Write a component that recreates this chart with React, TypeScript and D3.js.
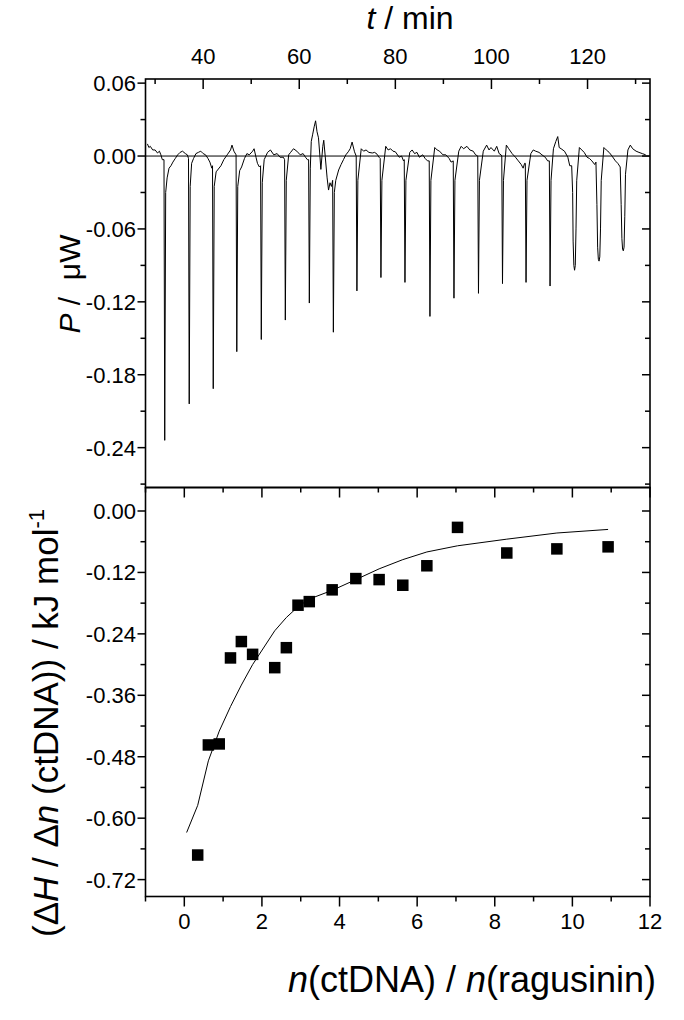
import React from "react";
import * as d3 from "d3";

// ---------- DATA ----------
// ITC thermogram: [t (min), P (µW)]
const powerTrace: [number, number][] = [
  [28.4, 0.010], [28.7, 0.007], [29.0, 0.008], [29.5, 0.005], [30.0, 0.005], [30.5, 0.0025], [30.9, 0.004], [31.2, 0.001], [31.5, -0.003], [31.85, -0.003],
  [32.0, -0.234], [32.2, -0.030], [32.5, -0.018], [32.9, -0.010], [33.3, -0.008], [33.7, -0.005], [34.2, -0.002], [34.7, 0.001], [35.2, 0.003], [35.7, 0.004], [36.3, 0.002], [36.7, 0.001], [36.95, -0.002],
  [37.1, -0.204], [37.3, -0.025], [37.6, -0.006], [38.0, -0.002], [38.5, 0.002], [39.0, 0.003], [39.5, 0.004], [40.0, 0.002], [40.5, 0.001], [41.0, -0.002], [41.4, -0.005], [41.8, -0.010], [41.95, -0.008],
  [42.1, -0.1915], [42.3, -0.025], [42.7, -0.013], [43.0, -0.0115], [43.7, -0.008], [44.3, -0.003], [45.0, 0.001], [45.7, 0.005], [46.0, 0.009], [46.4, 0.004], [46.85, 0.001],
  [47.0, -0.161], [47.2, -0.025], [47.6, -0.012], [48.0, -0.009], [48.6, -0.002], [49.1, 0.002], [49.6, 0.001], [50.3, 0.004], [50.6, 0.006], [51.0, -0.001], [51.3, -0.006], [51.7, -0.009], [51.95, -0.008],
  [52.1, -0.151], [52.3, -0.022], [52.7, -0.003], [53.4, 0.003], [54.0, 0.005], [54.7, 0.001], [55.4, 0.002], [56.0, -0.001], [56.7, -0.001], [56.95, -0.003],
  [57.1, -0.135], [57.3, -0.020], [57.8, 0.001], [58.2, 0.003], [58.8, 0.006], [59.5, 0.004], [60.2, 0.001], [60.8, 0.002], [61.3, -0.001], [61.7, -0.003], [61.95, -0.003],
  [62.1, -0.121], [62.3, -0.010], [62.5, 0.012], [62.8, 0.018], [63.1, 0.024], [63.4, 0.029], [63.7, 0.020], [64.0, 0.015], [64.3, 0.000], [64.5, -0.011], [64.9, 0.008], [65.1, 0.013], [65.4, 0.000], [65.8, -0.018], [66.1, -0.028], [66.4, -0.022], [66.7, -0.025], [66.95, -0.020],
  [67.1, -0.145], [67.3, -0.030], [67.6, -0.020], [68.2, -0.0115], [68.7, -0.007], [69.2, -0.003], [69.7, 0.001], [70.2, 0.0035], [70.6, 0.006], [71.0, 0.0115], [71.5, 0.0035], [71.85, 0.000],
  [72.0, -0.111], [72.2, -0.020], [72.9, 0.006], [73.4, 0.004], [73.9, 0.005], [74.5, 0.003], [75.2, 0.0025], [75.7, 0.003], [76.2, 0.0015], [76.6, -0.001], [76.85, -0.002],
  [77.0, -0.100], [77.2, -0.020], [78.0, 0.008], [78.5, 0.005], [79.0, 0.006], [79.5, 0.004], [80.0, 0.0035], [80.8, -0.001], [81.3, 0.000], [81.7, -0.004], [81.85, -0.003],
  [82.0, -0.104], [82.2, -0.020], [83.0, 0.003], [83.5, 0.005], [84.0, 0.002], [84.5, 0.003], [85.0, -0.001], [85.7, 0.001], [86.2, -0.002], [86.7, -0.004], [87.05, -0.004],
  [87.2, -0.132], [87.4, -0.020], [88.2, 0.007], [88.7, 0.005], [89.2, 0.004], [89.9, 0.001], [90.5, 0.001], [91.2, -0.002], [91.6, -0.005], [92.05, -0.004],
  [92.2, -0.117], [92.4, -0.020], [93.2, 0.004], [93.7, 0.008], [94.2, 0.006], [94.9, 0.008], [95.5, 0.005], [96.2, 0.004], [96.7, 0.001], [97.15, 0.000],
  [97.3, -0.113], [97.5, -0.020], [98.3, 0.004], [99.0, 0.009], [99.5, 0.005], [99.9, 0.007], [100.6, 0.004], [101.1, 0.008], [101.6, 0.002], [102.0, 0.001], [102.15, 0.000],
  [102.3, -0.105], [102.5, -0.020], [103.1, 0.009], [103.6, 0.006], [104.3, 0.002], [105.0, -0.001], [105.6, -0.004], [106.2, -0.007], [106.6, -0.010], [106.9, -0.006], [107.05, -0.006],
  [107.2, -0.104], [107.4, -0.020], [108.2, 0.002], [108.7, 0.005], [109.2, 0.004], [109.9, 0.003], [110.5, 0.001], [111.2, -0.001], [111.7, -0.004], [112.05, -0.004],
  [112.2, -0.107], [112.4, -0.020], [112.9, 0.006], [113.4, 0.012], [113.8, 0.016], [114.1, 0.007], [114.5, 0.006], [115.2, 0.004], [115.9, -0.001], [116.3, -0.008], [116.7, -0.008],
  [116.9, -0.030], [117.0, -0.070], [117.15, -0.090], [117.3, -0.094], [117.45, -0.090], [117.6, -0.060], [117.75, -0.020],
  [118.3, 0.007], [118.8, 0.005], [119.3, 0.003], [119.9, -0.001], [120.4, -0.002], [120.9, -0.004], [121.5, -0.007], [121.75, -0.005],
  [121.95, -0.040], [122.1, -0.075], [122.25, -0.085], [122.4, -0.0865], [122.55, -0.083], [122.7, -0.060], [122.85, -0.020],
  [123.4, 0.007], [123.9, 0.005], [124.5, 0.003], [125.1, 0.000], [125.8, -0.004], [126.3, -0.006], [126.8, -0.009],
  [127.0, -0.040], [127.15, -0.068], [127.3, -0.077], [127.45, -0.078], [127.6, -0.075], [127.75, -0.050], [127.9, -0.015],
  [128.4, 0.005], [128.9, 0.009], [129.4, 0.006], [130.1, 0.004], [130.7, 0.003], [131.4, 0.002], [132.1, 0.001],
];

// Integrated heats
const molarRatio = [0.345, 0.62, 0.90, 1.19, 1.47, 1.76, 2.33, 2.63, 2.93, 3.22, 3.81, 4.42, 5.02, 5.63, 6.25, 7.04, 8.31, 9.60, 10.92];
const enthalpy = [-0.672, -0.457, -0.455, -0.287, -0.255, -0.280, -0.306, -0.267, -0.184, -0.177, -0.154, -0.132, -0.134, -0.145, -0.107, -0.032, -0.082, -0.074, -0.070];

// Fitted curve
const fitRatio = [0.06, 0.345, 0.62, 0.90, 1.19, 1.47, 1.76, 2.33, 2.63, 2.93, 3.22, 3.81, 4.42, 5.02, 5.63, 6.25, 7.04, 8.31, 9.60, 10.92];
const fitEnthalpy = [-0.628, -0.575, -0.488, -0.430, -0.382, -0.340, -0.300, -0.234, -0.208, -0.187, -0.172, -0.155, -0.134, -0.113, -0.095, -0.080, -0.068, -0.055, -0.043, -0.036];

// Ticks
const timeMajorTicks = [40, 60, 80, 100, 120];
const timeMinorTicks = [30, 50, 70, 90, 110, 130];
const powerMajorTicks = [0.06, 0, -0.06, -0.12, -0.18, -0.24];
const powerMinorTicks = [0.03, -0.03, -0.09, -0.15, -0.21, -0.27];
const ratioMajorTicks = [0, 2, 4, 6, 8, 10, 12];
const ratioMinorTicks = [-1, 1, 3, 5, 7, 9, 11];
const enthMajorTicks = [0, -0.12, -0.24, -0.36, -0.48, -0.6, -0.72];
const enthMinorTicks = [-0.06, -0.18, -0.3, -0.42, -0.54, -0.66];

// ---------- LAYOUT ----------
const W = 684;
const H = 1020;
const L = 145.5;
const R = 650;
const T1 = 79;
const MID = 487.5;
const B2 = 896.5;
const FONT = "'Liberation Sans', Arial, Helvetica, sans-serif";

const fmt2 = (v: number) => d3.format(".2f")(v).replace("\u2212", "-");

export default function App() {
  const tScale = d3.scaleLinear().domain([28, 133]).range([L, R]);
  const nScale = d3.scaleLinear().domain([-1, 12]).range([L, R]);
  const pScale = d3.scaleLinear().domain([-0.2728, 0.0634]).range([MID, T1]);
  const hScale = d3.scaleLinear().domain([-0.753, 0.0459]).range([B2, MID]);

  const traceLine = d3
    .line<[number, number]>()
    .x((d) => tScale(d[0]))
    .y((d) => pScale(d[1]));

  const fitLine = d3
    .line<number>()
    .x((d) => nScale(d))
    .y((_, i) => hScale(fitEnthalpy[i]));

  const sq = 11.5;
  const sw = 1.5;

  return (
    <svg
      width={W}
      height={H}
      style={{ position: "absolute", left: 0, top: 0, background: "#fff" }}
      fontFamily={FONT}
    >
      <rect x={0} y={0} width={W} height={H} fill="#fff" />

      {/* ---------- TOP PANEL ---------- */}
      <line x1={L} x2={R} y1={pScale(0)} y2={pScale(0)} stroke="#000" strokeWidth={1} />
      <path d={traceLine(powerTrace) || ""} fill="none" stroke="#000" strokeWidth={1} strokeLinejoin="round" />

      {timeMajorTicks.map((v) => (
        <g key={"tM" + v}>
          <line x1={tScale(v)} x2={tScale(v)} y1={T1} y2={T1 + 10} stroke="#000" strokeWidth={sw} />
          <text x={tScale(v)} y={64} fontSize={22} textAnchor="middle">{v}</text>
        </g>
      ))}
      {timeMinorTicks.map((v) => (
        <line key={"tm" + v} x1={tScale(v)} x2={tScale(v)} y1={T1} y2={T1 + 5} stroke="#000" strokeWidth={sw} />
      ))}

      {powerMajorTicks.map((v) => (
        <g key={"pM" + v}>
          <line x1={L - 8} x2={L} y1={pScale(v)} y2={pScale(v)} stroke="#000" strokeWidth={sw} />
          <line x1={R - 8} x2={R} y1={pScale(v)} y2={pScale(v)} stroke="#000" strokeWidth={sw} />
          <text x={136} y={pScale(v) + 8} fontSize={22} textAnchor="end">{fmt2(v)}</text>
        </g>
      ))}
      {powerMinorTicks.map((v) => (
        <g key={"pm" + v}>
          <line x1={L - 5} x2={L} y1={pScale(v)} y2={pScale(v)} stroke="#000" strokeWidth={sw} />
          <line x1={R - 5} x2={R} y1={pScale(v)} y2={pScale(v)} stroke="#000" strokeWidth={sw} />
        </g>
      ))}

      {/* ---------- BOTTOM PANEL ---------- */}
      <path d={fitLine(fitRatio) || ""} fill="none" stroke="#000" strokeWidth={1} strokeLinejoin="round" />
      {molarRatio.map((n, i) => (
        <rect key={"s" + i} x={nScale(n) - sq / 2} y={hScale(enthalpy[i]) - sq / 2} width={sq} height={sq} fill="#000" />
      ))}

      {ratioMajorTicks.map((v) => (
        <g key={"nM" + v}>
          <line x1={nScale(v)} x2={nScale(v)} y1={B2} y2={B2 + 10} stroke="#000" strokeWidth={sw} />
          <line x1={nScale(v)} x2={nScale(v)} y1={MID} y2={MID + 10} stroke="#000" strokeWidth={sw} />
          <text x={nScale(v)} y={929} fontSize={22} textAnchor="middle">{v}</text>
        </g>
      ))}
      {ratioMinorTicks.map((v) => (
        <g key={"nm" + v}>
          <line x1={nScale(v)} x2={nScale(v)} y1={B2} y2={B2 + 5} stroke="#000" strokeWidth={sw} />
          <line x1={nScale(v)} x2={nScale(v)} y1={MID} y2={MID + 5} stroke="#000" strokeWidth={sw} />
        </g>
      ))}
      {enthMajorTicks.map((v) => (
        <g key={"hM" + v}>
          <line x1={L - 8} x2={L} y1={hScale(v)} y2={hScale(v)} stroke="#000" strokeWidth={sw} />
          <line x1={R - 8} x2={R} y1={hScale(v)} y2={hScale(v)} stroke="#000" strokeWidth={sw} />
          <text x={136} y={hScale(v) + 8} fontSize={22} textAnchor="end">{fmt2(v)}</text>
        </g>
      ))}
      {enthMinorTicks.map((v) => (
        <g key={"hm" + v}>
          <line x1={L - 5} x2={L} y1={hScale(v)} y2={hScale(v)} stroke="#000" strokeWidth={sw} />
          <line x1={R - 5} x2={R} y1={hScale(v)} y2={hScale(v)} stroke="#000" strokeWidth={sw} />
        </g>
      ))}

      <rect x={L} y={T1} width={R - L} height={MID - T1} fill="none" stroke="#000" strokeWidth={1.6} />
      <rect x={L} y={MID} width={R - L} height={B2 - MID} fill="none" stroke="#000" strokeWidth={1.6} />

      {/* axis titles */}
      <text x={410} y={29} fontSize={32} textAnchor="middle">
        <tspan fontStyle="italic">t</tspan> / min
      </text>
      <text x={472} y={992} fontSize={36} textAnchor="middle">
        <tspan fontStyle="italic">n</tspan>(ctDNA) / <tspan fontStyle="italic">n</tspan>(ragusinin)
      </text>
      <text transform="translate(80,284) rotate(-90)" fontSize={30} textAnchor="middle" xmlSpace="preserve">
        <tspan fontStyle="italic">P</tspan> /  μW
      </text>
      <text transform="translate(58,723) rotate(-90)" fontSize={35} textAnchor="middle">
        (Δ<tspan fontStyle="italic">H</tspan> / Δ<tspan fontStyle="italic">n</tspan> (ctDNA)) / kJ mol
        <tspan fontSize={22} dy={-14}>-1</tspan>
      </text>
    </svg>
  );
}
